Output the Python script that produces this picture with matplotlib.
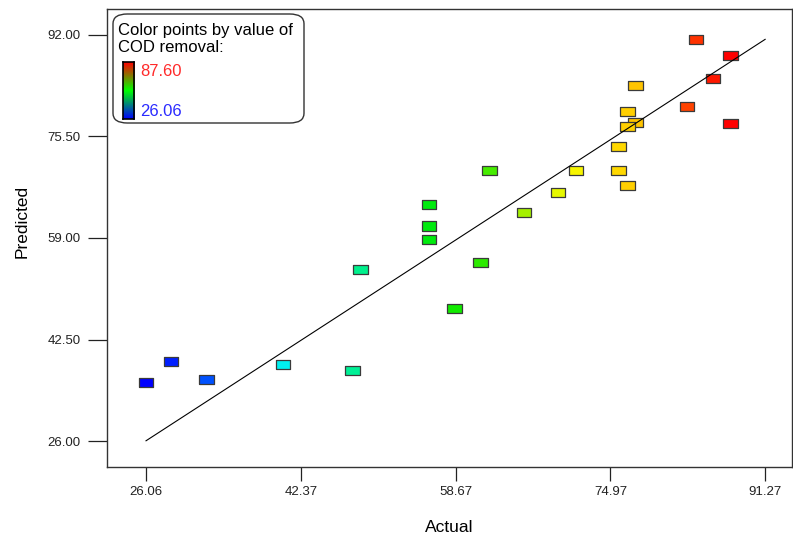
import numpy as np
import matplotlib
matplotlib.use("Agg")
import matplotlib.pyplot as plt
from matplotlib.colors import LinearSegmentedColormap
from matplotlib.patches import FancyBboxPatch

plt.rcParams['font.family'] = ['Liberation Sans', 'DejaVu Sans']

# actual vs predicted COD removal (%)
actual = [83.98, 87.60, 85.78, 77.62, 83.03, 87.60, 76.75, 77.62, 76.75, 75.83,
          75.83, 76.75, 71.34, 69.47, 65.89, 62.24, 55.88, 55.88, 55.88, 61.29,
          58.55, 48.64, 26.06, 28.69, 32.41, 40.50, 47.80]
predicted = [91.30, 88.64, 84.85, 83.82, 80.41, 77.53, 79.53, 77.74, 77.05, 73.91,
             69.89, 67.57, 69.89, 66.32, 63.12, 69.89, 64.37, 60.95, 58.68, 55.05,
             47.57, 53.85, 35.48, 39.01, 35.97, 38.47, 37.43]

x_ticks = [26.06, 42.37, 58.67, 74.97, 91.27]
y_ticks = [26.00, 42.50, 59.00, 75.50, 92.00]
cod_min, cod_max = 26.06, 87.60

W, H = 793, 538

# blue -> cyan -> green -> yellow -> red, like the Design-Expert palette
nodes = [(0.00, (0, 0, 255)), (0.10, (0, 80, 255)), (0.235, (0, 240, 240)),
         (0.36, (0, 240, 145)), (0.50, (0, 235, 0)), (0.57, (40, 235, 0)),
         (0.65, (170, 240, 0)), (0.72, (245, 250, 0)), (0.80, (255, 225, 0)),
         (0.84, (255, 195, 0)), (0.93, (255, 60, 0)), (1.00, (255, 0, 0))]
cmap = LinearSegmentedColormap.from_list(
    'cod', [(p, tuple(v / 255 for v in c)) for p, c in nodes])


def fig_box(x0, y0, x1, y1):
    # pixel box (top-left origin) -> figure fraction rect
    return [x0 / W, 1 - y1 / H, (x1 - x0) / W, (y1 - y0) / H]


fig = plt.figure(figsize=(W / 100, H / 100), dpi=100)
ax = fig.add_axes(fig_box(107, 9, 792, 467))

rect = [(-1, -0.62), (1, -0.62), (1, 0.62), (-1, 0.62), (-1, -0.62)]
ax.scatter(actual, predicted, c=actual, cmap=cmap, vmin=cod_min, vmax=cod_max,
           marker=rect, s=10.5 ** 2, edgecolors='#3a3a3a', linewidths=0.9,
           zorder=2)
ax.plot([x_ticks[0], x_ticks[-1]], [x_ticks[0], x_ticks[-1]],
        color='black', lw=0.8, zorder=3)

ax.set_xlim(21.95, 94.1)
ax.set_ylim(21.8, 96.2)
ax.set_xticks(x_ticks)
ax.set_yticks(y_ticks)
ax.set_xticklabels(['%.2f' % v for v in x_ticks])
ax.set_yticklabels(['%.2f' % v for v in y_ticks])
ax.tick_params(axis='x', direction='out', length=10, width=0.9, pad=4,
               labelsize=9.5, colors='#222222')
ax.tick_params(axis='y', direction='out', length=14, width=0.9, pad=5,
               labelsize=9.5, colors='#222222')
for s in ax.spines.values():
    s.set_linewidth(1.0)
    s.set_color('#333333')

ax.set_xlabel('Actual', fontsize=12.5)
ax.set_ylabel('Predicted', fontsize=12.5)
ax.xaxis.set_label_coords(0.5, -(527 - 467) / (467 - 9), transform=ax.transAxes)
ax.yaxis.set_label_coords(-(107 - 22) / (792 - 107), (467 - 221) / (467 - 9),
                          transform=ax.transAxes)
ax.xaxis.label.set_va('center')
ax.yaxis.label.set_va('center')

# legend box with the colour key
box = FancyBboxPatch((113 / W, 1 - 123 / H), (304 - 113) / W, (123 - 14) / H,
                     boxstyle='round,pad=0,rounding_size=0.018',
                     transform=fig.transFigure, facecolor='white',
                     edgecolor='#333333', lw=1.0, zorder=5)
fig.patches.append(box)
fig.text(118 / W, 1 - 30 / H, 'Color points by value of',
         fontsize=12, va='center', ha='left', zorder=6)
fig.text(118 / W, 1 - 48 / H, 'COD removal:',
         fontsize=12, va='center', ha='left', zorder=6)

cax = fig.add_axes(fig_box(123, 62, 134, 119))
cax.set_zorder(10)
grad = np.linspace(1, 0, 256).reshape(-1, 1)
key = LinearSegmentedColormap.from_list('key', ['blue', 'lime', 'red'])
cax.imshow(grad, aspect='auto', cmap=key, extent=[0, 1, 0, 1])
cax.set_xticks([])
cax.set_yticks([])
for s in cax.spines.values():
    s.set_linewidth(1.2)
fig.text(140 / W, 1 - 71 / H, '%.2f' % cod_max, color='#ff2a2a',
         fontsize=12, va='center', ha='left', zorder=11)
fig.text(140 / W, 1 - 111 / H, '%.2f' % cod_min, color='#2a2aff',
         fontsize=12, va='center', ha='left', zorder=11)

fig.savefig('out.png', dpi=100)
